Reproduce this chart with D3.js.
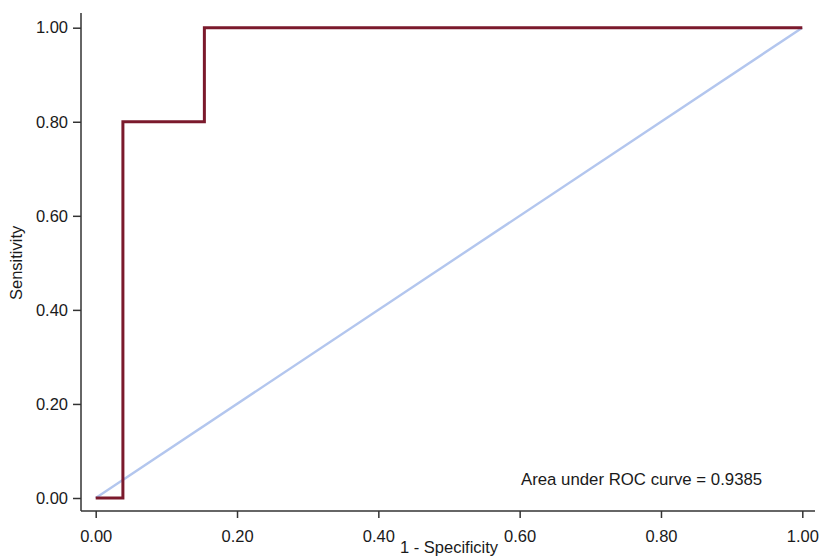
<html lang='eng'>
<head>
    <title>ROC curve</title>
    <script src="https://d3js.org/d3.v7.min.js" charset="utf-8"></script>
    <style>
        body { margin: 0; background: #fff; }
        text { font-family: 'Liberation Sans', Arial, sans-serif; fill: #1a1a1a; }
    </style>
</head>
<body>
    <script>
        // data
        var fpr = [0, 0.0385, 0.0385, 0.1538, 0.1538, 1];
        var tpr = [0, 0, 0.8, 0.8, 1, 1];
        var refLine = [0, 1];
        var tickVals = [0, 0.2, 0.4, 0.6, 0.8, 1];
        var aucLabel = 'Area under ROC curve = 0.9385';

        // canvas
        var width = 822, height = 557;
        var fs = 16.5;

        var svg = d3.select('body').append('svg')
            .attr('width', width)
            .attr('height', height);

        // scales
        var x = d3.scaleLinear().domain([0, 1]).range([95.7, 802.3]);
        var y = d3.scaleLinear().domain([0, 1]).range([498, 27.7]);

        // axes
        var xAxis = d3.axisBottom(x).tickValues(tickVals).tickFormat(d3.format('.2f')).tickSize(7).tickPadding(12);
        var yAxis = d3.axisLeft(y).tickValues(tickVals).tickFormat(d3.format('.2f')).tickSize(8).tickPadding(5);

        var gx = svg.append('g').attr('transform', 'translate(0,511)').call(xAxis);
        var gy = svg.append('g').attr('transform', 'translate(81,0)').call(yAxis);

        [gx, gy].forEach(function (g) {
            g.select('.domain').remove();
            g.selectAll('.tick line').attr('stroke', '#333').attr('stroke-width', 1.5);
            g.selectAll('.tick text').attr('font-size', fs).attr('font-family', "'Liberation Sans', Arial, sans-serif").attr('fill', '#1a1a1a');
        });

        // axis lines
        svg.append('line').attr('x1', 81).attr('x2', 81).attr('y1', 13).attr('y2', 511)
            .attr('stroke', '#333').attr('stroke-width', 1.5);
        svg.append('line').attr('x1', 81).attr('x2', 815).attr('y1', 511).attr('y2', 511)
            .attr('stroke', '#333').attr('stroke-width', 1.5);

        // reference line
        svg.append('path')
            .datum(refLine)
            .attr('d', d3.line().x(function (d) { return x(d); }).y(function (d) { return y(d); }))
            .attr('fill', 'none').attr('stroke', '#b3c6ee').attr('stroke-width', 2.4);

        // roc curve
        var pts = fpr.map(function (f, i) { return [f, tpr[i]]; });
        svg.append('path')
            .datum(pts)
            .attr('d', d3.line().x(function (d) { return x(d[0]); }).y(function (d) { return y(d[1]); }))
            .attr('fill', 'none').attr('stroke', '#7b1a2c').attr('stroke-width', 3)
            .attr('stroke-linejoin', 'miter');

        // labels
        svg.append('text').attr('x', 521).attr('y', 485).attr('text-anchor', 'start')
            .attr('font-size', 16.8).text(aucLabel);

        svg.append('text').attr('x', (x(0) + x(1)) / 2).attr('y', 553).attr('text-anchor', 'middle')
            .attr('font-size', fs).text('1 - Specificity');

        svg.append('text').attr('transform', 'translate(21.5,' + (y(0) + y(1)) / 2 + ') rotate(-90)')
            .attr('text-anchor', 'middle').attr('font-size', fs).text('Sensitivity');
    </script>
</body>
</html>
